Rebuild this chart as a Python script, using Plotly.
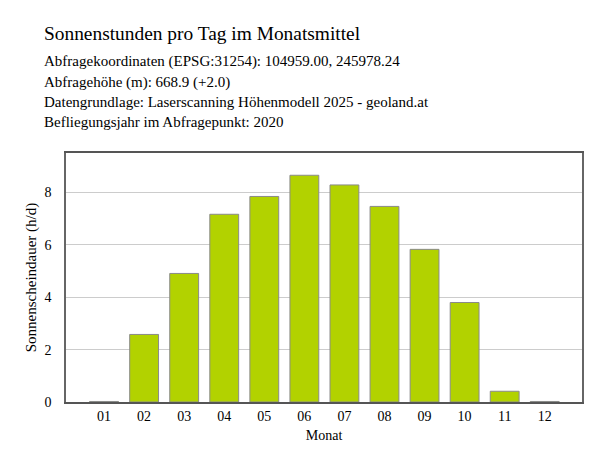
import plotly.graph_objects as go

monate = ['01', '02', '03', '04', '05', '06', '07', '08', '09', '10', '11', '12']
sonnenstunden = [0.02, 2.58, 4.91, 7.17, 7.85, 8.66, 8.29, 7.47, 5.83, 3.80, 0.41, 0.02]

titel = 'Sonnenstunden pro Tag im Monatsmittel'
info_zeilen = [
    'Abfragekoordinaten (EPSG:31254): 104959.00, 245978.24',
    'Abfragehöhe (m): 668.9 (+2.0)',
    'Datengrundlage: Laserscanning Höhenmodell 2025 - geoland.at',
    'Befliegungsjahr im Abfragepunkt: 2020',
]

serif = 'Liberation Serif'

fig = go.Figure()
fig.add_trace(go.Bar(
    x=monate,
    y=sonnenstunden,
    width=0.72,
    marker=dict(color='#b2d200', line=dict(color='#8a8a8a', width=1)),
))

# page has an 8px body margin, so the figure is 8px smaller
# plot area in screenshot: x 66..582, y 153..402 px
plot_h = 249.0
def y_paper(px):
    return 1 + (153 - px) / plot_h

annos = [dict(text=titel, x=-24 / 516, y=y_paper(33),
              font=dict(family=serif, size=19.4, color='#000'))]
for i, zeile in enumerate(info_zeilen):
    annos.append(dict(text=zeile, x=-24 / 516, y=y_paper(62 + i * 20),
                      font=dict(family=serif, size=15, color='#000')))
for a in annos:
    a.update(xref='paper', yref='paper', xanchor='left', yanchor='middle', showarrow=False)

fig.update_layout(
    width=603, height=459,
    margin=dict(l=58, r=29, t=145, b=65),
    paper_bgcolor='white', plot_bgcolor='white',
    showlegend=False,
    font=dict(family=serif, size=13, color='#000'),
    annotations=annos,
)
fig.update_xaxes(
    type='category', range=[-0.95, 11.93],
    showline=True, linecolor='#555', linewidth=1.5, mirror=True,
    ticks='', tickfont=dict(size=14),
    title=dict(text='Monat', font=dict(size=14), standoff=8),
)
fig.update_yaxes(
    range=[0, 9.51], tickvals=[0, 2, 4, 6, 8],
    showgrid=True, gridcolor='#cccccc', gridwidth=1.3,
    zeroline=False,
    showline=True, linecolor='#666', linewidth=1.5, mirror=True,
    ticks='', tickfont=dict(size=14), ticklabelstandoff=10,
    title=dict(text='Sonnenscheindauer (h/d)', font=dict(size=15), standoff=4),
)

fig.write_html('out.html')
